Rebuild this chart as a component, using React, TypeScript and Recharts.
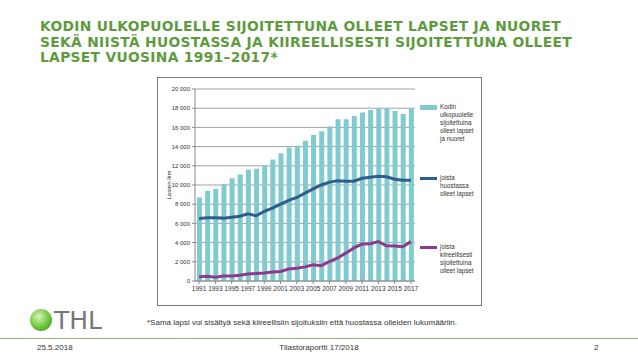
import React from "react";
import {
  ComposedChart,
  Bar,
  Line,
  XAxis,
  YAxis,
  CartesianGrid,
} from "recharts";

const years = [
  "1991", "1992", "1993", "1994", "1995", "1996", "1997", "1998", "1999",
  "2000", "2001", "2002", "2003", "2004", "2005", "2006", "2007", "2008",
  "2009", "2010", "2011", "2012", "2013", "2014", "2015", "2016", "2017",
];
const kodinUlkopuolelle = [
  8700, 9400, 9600, 10100, 10700, 11100, 11600, 11700, 12000, 12650, 13300,
  13900, 14100, 14600, 15200, 15600, 16100, 16850, 16850, 17200, 17550, 17800,
  18000, 18000, 17700, 17400, 18000,
];
const huostassa = [
  6500, 6600, 6600, 6550, 6650, 6750, 7000, 6800, 7250, 7600, 8000, 8400, 8700,
  9150, 9600, 10000, 10300, 10450, 10400, 10400, 10700, 10800, 10900, 10850,
  10600, 10500, 10500,
];
const kiireellisesti = [
  450, 500, 400, 520, 520, 600, 730, 770, 830, 940, 1000, 1250, 1330, 1470,
  1680, 1600, 2030, 2400, 2900, 3450, 3850, 3880, 4100, 3670, 3640, 3560, 4100,
];
const yTicks = [0, 2000, 4000, 6000, 8000, 10000, 12000, 14000, 16000, 18000, 20000];

const legendLabels = [
  "Kodin ulkopuolelle sijoitettuina olleet lapset ja nuoret",
  "joista huostassa olleet lapset",
  "joista kiireellisesti sijoitettuina olleet lapset",
];

const data = years.map((y, i) => ({
  year: y,
  kodin: kodinUlkopuolelle[i],
  huostassa: huostassa[i],
  kiir: kiireellisesti[i],
}));

const BAR = "#80CBD0";
const BLUE = "#2E5D8E";
const PURPLE = "#8C3A8E";
const GREEN = "#5E9B3E";

const fmt = (v: number) =>
  v === 0 ? "0" : `${Math.floor(v / 1000)}\u00A0${String(v % 1000).padStart(3, "0")}`;

const LegendBox = () => {
  const items = [
    { color: BAR, type: "bar", label: legendLabels[0], top: 0 },
    { color: BLUE, type: "line", label: legendLabels[1], top: 71 },
    { color: PURPLE, type: "line", label: legendLabels[2], top: 140 },
  ];
  return (
    <div style={{ position: "absolute", left: 420, top: 104, width: 60, height: 180 }}>
      {items.map((it, i) => (
        <div key={i} style={{ position: "absolute", top: it.top, left: 0, width: 60 }}>
          <div
            style={{
              position: "absolute",
              left: 0,
              top: it.type === "bar" ? 1 : 2,
              width: 17,
              height: it.type === "bar" ? 5 : 3,
              background: it.color,
            }}
          />
          <div
            style={{
              position: "absolute",
              left: 20,
              top: -1,
              width: 40,
              fontFamily: "'Liberation Sans', Arial, sans-serif",
              fontSize: 6.3,
              lineHeight: "8px",
              color: "#333",
            }}
          >
            {it.label}
          </div>
        </div>
      ))}
    </div>
  );
};

export default function App() {
  return (
    <div
      style={{
        position: "absolute",
        left: 0,
        top: 0,
        width: 638,
        height: 359,
        background: "#fff",
        overflow: "hidden",
        fontFamily: "'Liberation Sans', Arial, sans-serif",
      }}
    >
      <div
        style={{
          position: "absolute",
          left: 40,
          top: 19,
          width: 590,
          fontFamily: "'DejaVu Sans', Verdana, sans-serif",
          fontWeight: "bold",
          fontSize: 13.8,
          lineHeight: "15.5px",
          color: GREEN,
          letterSpacing: 0.33,
          whiteSpace: "nowrap",
        }}
      >
        KODIN ULKOPUOLELLE SIJOITETTUNA OLLEET LAPSET JA NUORET
        <br />
        SEKÄ NIISTÄ HUOSTASSA JA KIIREELLISESTI SIJOITETTUNA OLLEET
        <br />
        LAPSET VUOSINA 1991–2017*
      </div>

      <div
        style={{
          position: "absolute",
          left: 157,
          top: 77,
          width: 325,
          height: 229,
          border: "1px solid #777",
          boxSizing: "border-box",
        }}
      />

      <div
        style={{
          position: "absolute",
          left: 166,
          top: 205,
          transform: "rotate(-90deg)",
          transformOrigin: "left top",
          fontSize: 6,
          color: "#333",
          whiteSpace: "nowrap",
          width: 40,
          textAlign: "center",
        }}
      >
        Lasten lkm
      </div>

      <div style={{ position: "absolute", left: 157, top: 77 }}>
        <ComposedChart
          width={325}
          height={229}
          data={data}
          margin={{ top: 12, right: 67, left: 0, bottom: 0 }}
        >
          <CartesianGrid vertical={false} stroke="#8a8a8a" strokeWidth={0.8} />
          <XAxis
            dataKey="year"
            interval={1}
            height={25}
            tick={{ fontSize: 6.5, fill: "#333" }}
            tickLine={{ stroke: "#888" }}
            tickSize={3}
            axisLine={{ stroke: "#888" }}
          />
          <YAxis
            width={38}
            domain={[0, 20000]}
            ticks={yTicks}
            tickFormatter={fmt}
            tick={{ fontSize: 6, fill: "#333" }}
            tickLine={{ stroke: "#888" }}
            tickSize={3}
            axisLine={{ stroke: "#888" }}
            interval={0}
          />
          <Bar dataKey="kodin" fill={BAR} barSize={5} isAnimationActive={false} />
          <Line
            type="linear"
            dataKey="huostassa"
            stroke={BLUE}
            strokeWidth={3}
            dot={false}
            isAnimationActive={false}
          />
          <Line
            type="linear"
            dataKey="kiir"
            stroke={PURPLE}
            strokeWidth={3}
            dot={false}
            isAnimationActive={false}
          />
        </ComposedChart>
      </div>

      <LegendBox />

      <div
        style={{
          position: "absolute",
          left: 30,
          top: 306,
          fontFamily: "'DejaVu Sans', sans-serif",
          fontSize: 25,
          color: "#777",
        }}
      >
        <span
          style={{
            display: "inline-block",
            width: 22,
            height: 22,
            borderRadius: 11,
            background: "radial-gradient(circle at 40% 35%, #d8f5b0, #6cc43a 55%, #3d8a22)",
            verticalAlign: "middle",
            marginRight: 2,
            marginTop: -4,
          }}
        />
        THL
      </div>

      <div
        style={{
          position: "absolute",
          left: 147,
          top: 318,
          fontSize: 8,
          color: "#333",
          whiteSpace: "nowrap",
        }}
      >
        *Sama lapsi voi sisältyä sekä kiireellisiin sijoituksiin että huostassa olleiden lukumääriin.
      </div>

      <div
        style={{
          position: "absolute",
          left: 0,
          top: 338,
          width: 638,
          height: 1,
          background: "#8fb77a",
        }}
      />

      <div style={{ position: "absolute", left: 37, top: 343, fontSize: 8, color: "#333" }}>25.5.2018</div>
      <div
        style={{
          position: "absolute",
          left: 0,
          width: 638,
          top: 343,
          fontSize: 8,
          color: "#333",
          textAlign: "center",
        }}
      >
        Tilastoraportti 17/2018
      </div>
      <div style={{ position: "absolute", left: 594, top: 343, fontSize: 8, color: "#333" }}>2</div>
    </div>
  );
}
